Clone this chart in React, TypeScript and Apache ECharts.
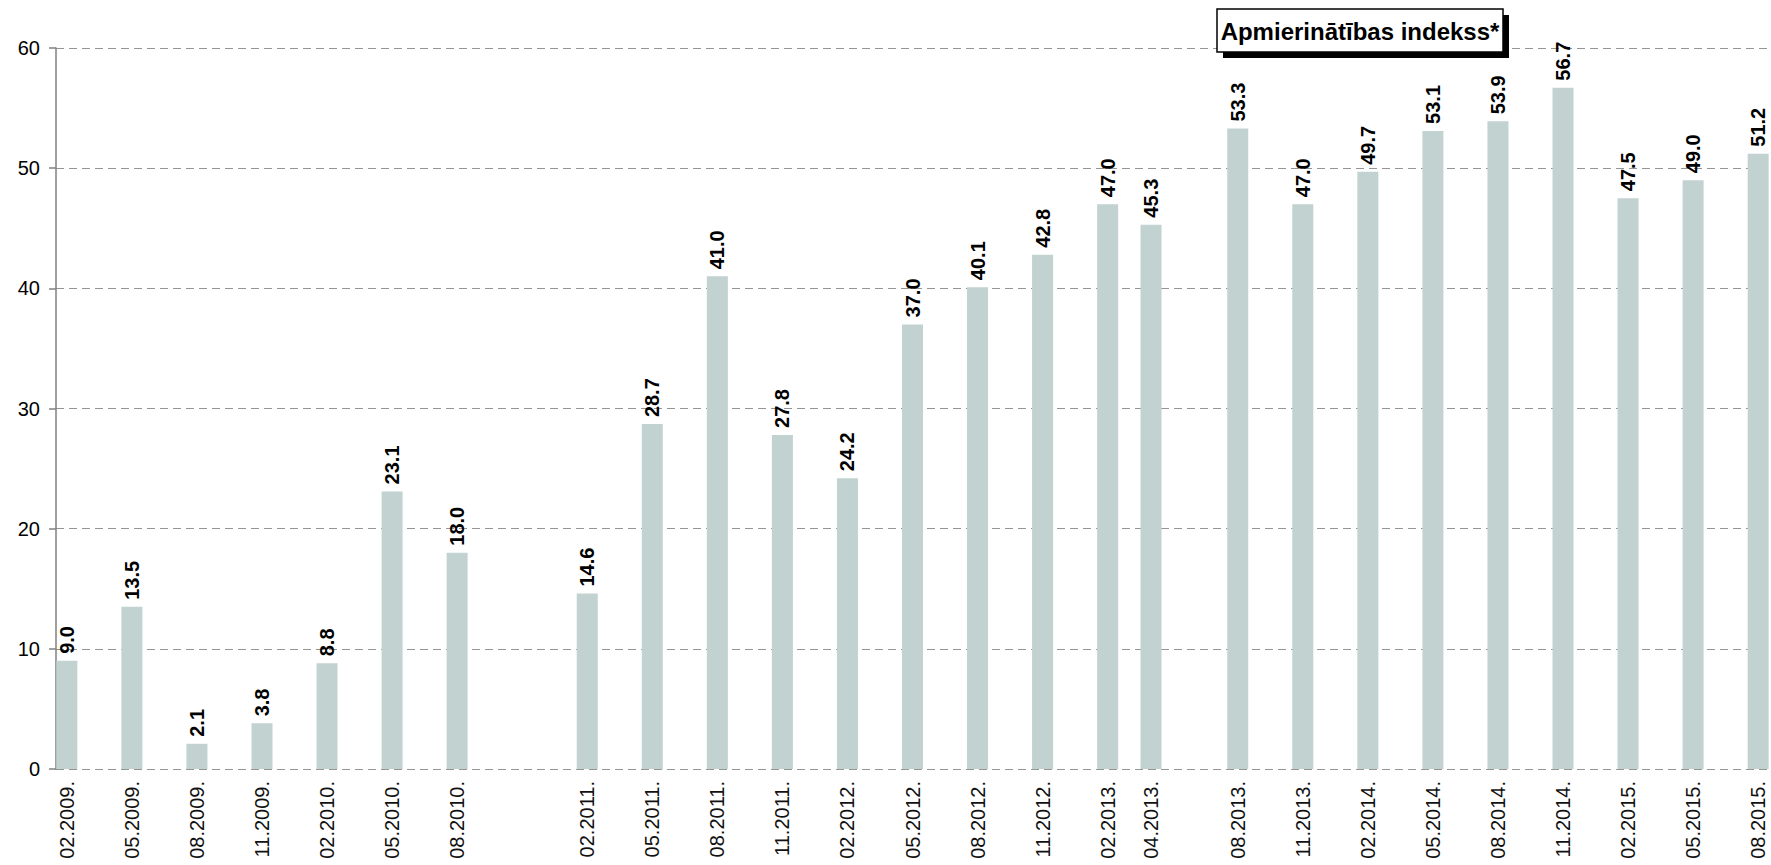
import React, { useEffect, useRef } from "react";
import * as echarts from "echarts";

const dates = [
  "02.2009", "05.2009", "08.2009", "11.2009", "02.2010", "05.2010", "08.2010",
  "02.2011", "05.2011", "08.2011", "11.2011", "02.2012", "05.2012", "08.2012",
  "11.2012", "02.2013", "04.2013", "08.2013", "11.2013", "02.2014", "05.2014",
  "08.2014", "11.2014", "02.2015", "05.2015", "08.2015",
];
const values = [
  9.0, 13.5, 2.1, 3.8, 8.8, 23.1, 18.0,
  14.6, 28.7, 41.0, 27.8, 24.2, 37.0, 40.1,
  42.8, 47.0, 45.3, 53.3, 47.0, 49.7, 53.1,
  53.9, 56.7, 47.5, 49.0, 51.2,
];
const yMin = 0;
const yMax = 60;
const yInterval = 10;
const titleText = "Apmierinātības indekss*";

const FONT = '"Liberation Sans", Arial, sans-serif';

function buildMonths(): string[] {
  const out: string[] = [];
  let y = 2009;
  let m = 2;
  while (y < 2015 || (y === 2015 && m <= 8)) {
    out.push(`${String(m).padStart(2, "0")}.${y}`);
    m++;
    if (m > 12) {
      m = 1;
      y++;
    }
  }
  return out;
}

export default function App() {
  const ref = useRef<HTMLDivElement>(null);
  useEffect(() => {
    if (!ref.current) return;
    const chart = echarts.init(ref.current, null, { renderer: "svg" });
    const months = buildMonths();
    const seriesData = months.map((mo) => {
      const i = dates.indexOf(mo);
      return i >= 0 ? values[i] : null;
    });
    chart.setOption({
      animation: false,
      backgroundColor: "#fff",
      grid: {
        left: 56,
        right: 2,
        top: 48,
        bottom: 96,
        containLabel: false,
        outerBoundsMode: "none",
      },
      xAxis: {
        type: "category",
        data: months,
        boundaryGap: true,
        axisLine: { show: false },
        axisTick: { show: false },
        axisLabel: {
          interval: (_i: number, v: string) => dates.indexOf(v) >= 0,
          rotate: 90,
          margin: 12,
          fontSize: 20,
          fontFamily: FONT,
          color: "#111",
          formatter: (v: string) => v + ".",
          hideOverlap: false,
        },
        splitLine: { show: false },
      },
      yAxis: {
        type: "value",
        min: yMin,
        max: yMax,
        interval: yInterval,
        axisLine: { show: true, lineStyle: { color: "#808080", width: 1.5 } },
        axisTick: { show: true, length: 7, lineStyle: { color: "#808080", width: 1.5 } },
        axisLabel: {
          margin: 16,
          fontSize: 20,
          fontFamily: FONT,
          color: "#000",
        },
        splitLine: {
          show: true,
          lineStyle: { type: [8, 5], color: "#959595", width: 1.2 },
        },
      },
      series: [
        {
          type: "bar",
          data: seriesData,
          barWidth: 21,
          itemStyle: { color: "#c1d2d1" },
          label: {
            show: true,
            position: "top",
            rotate: 90,
            align: "left",
            verticalAlign: "middle",
            distance: 7,
            fontSize: 20,
            fontWeight: "bold",
            fontFamily: FONT,
            color: "#000",
            formatter: (p: any) => (p.value == null ? "" : Number(p.value).toFixed(1)),
          },
        },
      ],
      graphic: [
        {
          type: "rect",
          z: 100,
          shape: { x: 1223, y: 15, width: 286, height: 43 },
          style: { fill: "#000" },
        },
        {
          type: "rect",
          z: 101,
          shape: { x: 1217, y: 9, width: 286, height: 43 },
          style: { fill: "#fff", stroke: "#000", lineWidth: 1.5 },
        },
        {
          type: "text",
          z: 102,
          x: 1360,
          y: 31,
          style: {
            text: titleText,
            fill: "#000",
            fontSize: 24,
            fontWeight: "bold",
            fontFamily: FONT,
            align: "center",
            verticalAlign: "middle",
          },
        },
      ],
    });
    return () => chart.dispose();
  }, []);
  return (
    <div
      ref={ref}
      style={{ position: "fixed", left: 0, top: 0, width: 1771, height: 865 }}
    />
  );
}
